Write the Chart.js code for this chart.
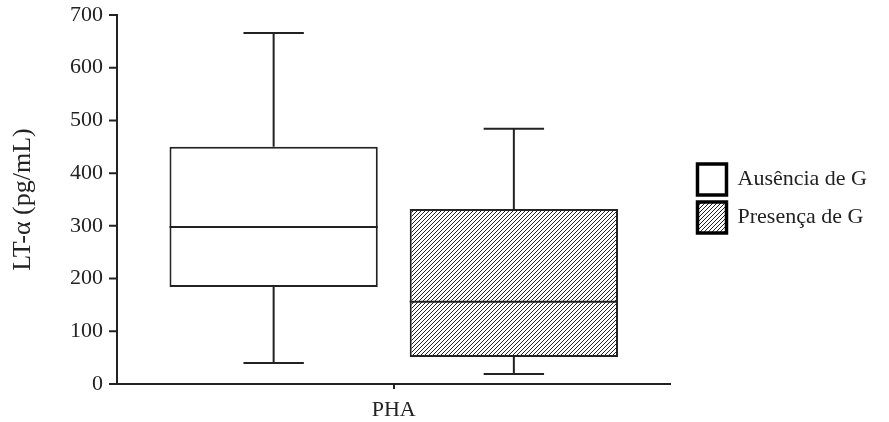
<!DOCTYPE html>
<html>
<head>
<meta charset="utf-8">
<script src="https://cdn.jsdelivr.net/npm/chart.js@4/dist/chart.umd.min.js"></script>
<style>
  html, body { margin: 0; padding: 0; background: #fff; }
</style>
</head>
<body>
<canvas id="chart" width="889" height="422"></canvas>
<script>
// Box plot: LT-alpha with PHA stimulus, absence vs presence of G
var categories = ['PHA'];
var seriesNames = ['Ausência de G', 'Presença de G'];
var mins    = [40, 19];
var q1s     = [184, 51];
var medians = [298, 156];
var q3s     = [450, 332];
var maxs    = [666, 484];
var yMin = 0, yMax = 700, yMajor = 100, yMinor = 50;

var INK = '#222';
var SERIF = "'Liberation Serif', 'Times New Roman', serif";

// diagonal hatch fill for the second group
function hatchPattern() {
  var c = document.createElement('canvas');
  c.width = 4; c.height = 4;
  var g = c.getContext('2d');
  g.fillStyle = '#fff';
  g.fillRect(0, 0, 4, 4);
  g.fillStyle = INK;
  for (var i = 0; i < 4; i++) g.fillRect(i, 3 - i, 1, 1);
  return g.createPattern(c, 'repeat');
}

// whiskers, caps and median line on top of the floating bars
var boxParts = {
  id: 'boxParts',
  afterDatasetsDraw: function(chart) {
    var y = chart.scales.y, ctx = chart.ctx;
    ctx.save();
    ctx.strokeStyle = INK;
    ctx.lineWidth = 2;
    chart.data.datasets.forEach(function(ds, i) {
      var bar = chart.getDatasetMeta(i).data[0];
      var half = bar.width / 2, cap = bar.width * 0.145;
      var pMin = y.getPixelForValue(mins[i]), pQ1 = y.getPixelForValue(q1s[i]);
      var pMed = y.getPixelForValue(medians[i]);
      var pQ3 = y.getPixelForValue(q3s[i]), pMax = y.getPixelForValue(maxs[i]);
      ctx.beginPath();
      ctx.moveTo(bar.x - half, pMed); ctx.lineTo(bar.x + half, pMed);
      ctx.moveTo(bar.x, pQ3); ctx.lineTo(bar.x, pMax);
      ctx.moveTo(bar.x - cap, pMax); ctx.lineTo(bar.x + cap, pMax);
      ctx.moveTo(bar.x, pQ1); ctx.lineTo(bar.x, pMin);
      ctx.moveTo(bar.x - cap, pMin); ctx.lineTo(bar.x + cap, pMin);
      ctx.stroke();
    });
    ctx.restore();
  }
};

// y ticks: long at every 100, short at the 50s
var yTickMarks = {
  id: 'yTickMarks',
  afterDraw: function(chart) {
    var y = chart.scales.y, ctx = chart.ctx, x0 = chart.chartArea.left;
    ctx.save();
    ctx.strokeStyle = INK;
    ctx.lineWidth = 2;
    ctx.beginPath();
    y.ticks.forEach(function(t) {
      var len = t.value % yMajor === 0 ? 8 : 4;
      var py = y.getPixelForValue(t.value);
      ctx.moveTo(x0 - len, py); ctx.lineTo(x0, py);
    });
    ctx.stroke();
    ctx.restore();
  }
};

var hatch = hatchPattern();
var fills = ['#fff', hatch];

var datasets = seriesNames.map(function(name, i) {
  return {
    label: name,
    data: [[q1s[i], q3s[i]]],
    backgroundColor: fills[i],
    borderColor: INK,
    borderWidth: 2,
    borderSkipped: false,
    categoryPercentage: 0.868,
    barPercentage: 0.867
  };
});

new Chart(document.getElementById('chart').getContext('2d'), {
  type: 'bar',
  data: { labels: categories, datasets: datasets },
  plugins: [boxParts, yTickMarks],
  options: {
    responsive: false,
    animation: false,
    layout: { padding: { top: 15, bottom: 0, left: 8, right: 12 } },
    plugins: {
      tooltip: { enabled: false },
      legend: {
        position: 'right',
        align: 'start',
        maxWidth: 220,
        // empty title used only to push the two entries down beside the boxes
        title: { display: true, text: '', font: { size: 10, lineHeight: 1 }, padding: { top: 0, bottom: 132 } },
        labels: {
          color: INK,
          font: { family: SERIF, size: 22 },
          boxWidth: 29,
          boxHeight: 31,
          padding: 7,
          generateLabels: function(chart) {
            var items = Chart.defaults.plugins.legend.labels.generateLabels(chart);
            items.forEach(function(it) { it.lineWidth = 3.5; it.strokeStyle = '#000'; });
            return items;
          }
        }
      }
    },
    scales: {
      x: {
        grid: { display: true, drawOnChartArea: false, offset: false, tickLength: 5, color: INK, lineWidth: 2 },
        border: { display: true, color: INK, width: 2 },
        ticks: { color: INK, font: { family: SERIF, size: 22 }, padding: 8 },
        afterFit: function(s) { s.height = 422 - 384; }
      },
      y: {
        min: yMin,
        max: yMax,
        // real tick marks come from the yTickMarks plugin; these only reserve the space
        grid: { display: true, drawOnChartArea: false, drawTicks: true, tickLength: 13, color: 'rgba(0,0,0,0)' },
        border: { display: true, color: INK, width: 2 },
        ticks: {
          stepSize: yMinor,
          color: INK,
          padding: 1,
          font: { family: SERIF, size: 22 },
          callback: function(v) { return v % yMajor === 0 ? v : ''; }
        },
        title: {
          display: true,
          text: 'LT-α (pg/mL)',
          color: INK,
          font: { family: SERIF, size: 26 },
          padding: { top: 0, bottom: 0 }
        },
        afterFit: function(s) { s.width = 117 - 8; }
      },
      gap: {
        position: 'right',
        display: true,
        grid: { display: false, drawTicks: false },
        border: { display: false },
        ticks: { display: false },
        afterFit: function(s) { s.width = 20; }
      }
    }
  }
});
</script>
</body>
</html>
